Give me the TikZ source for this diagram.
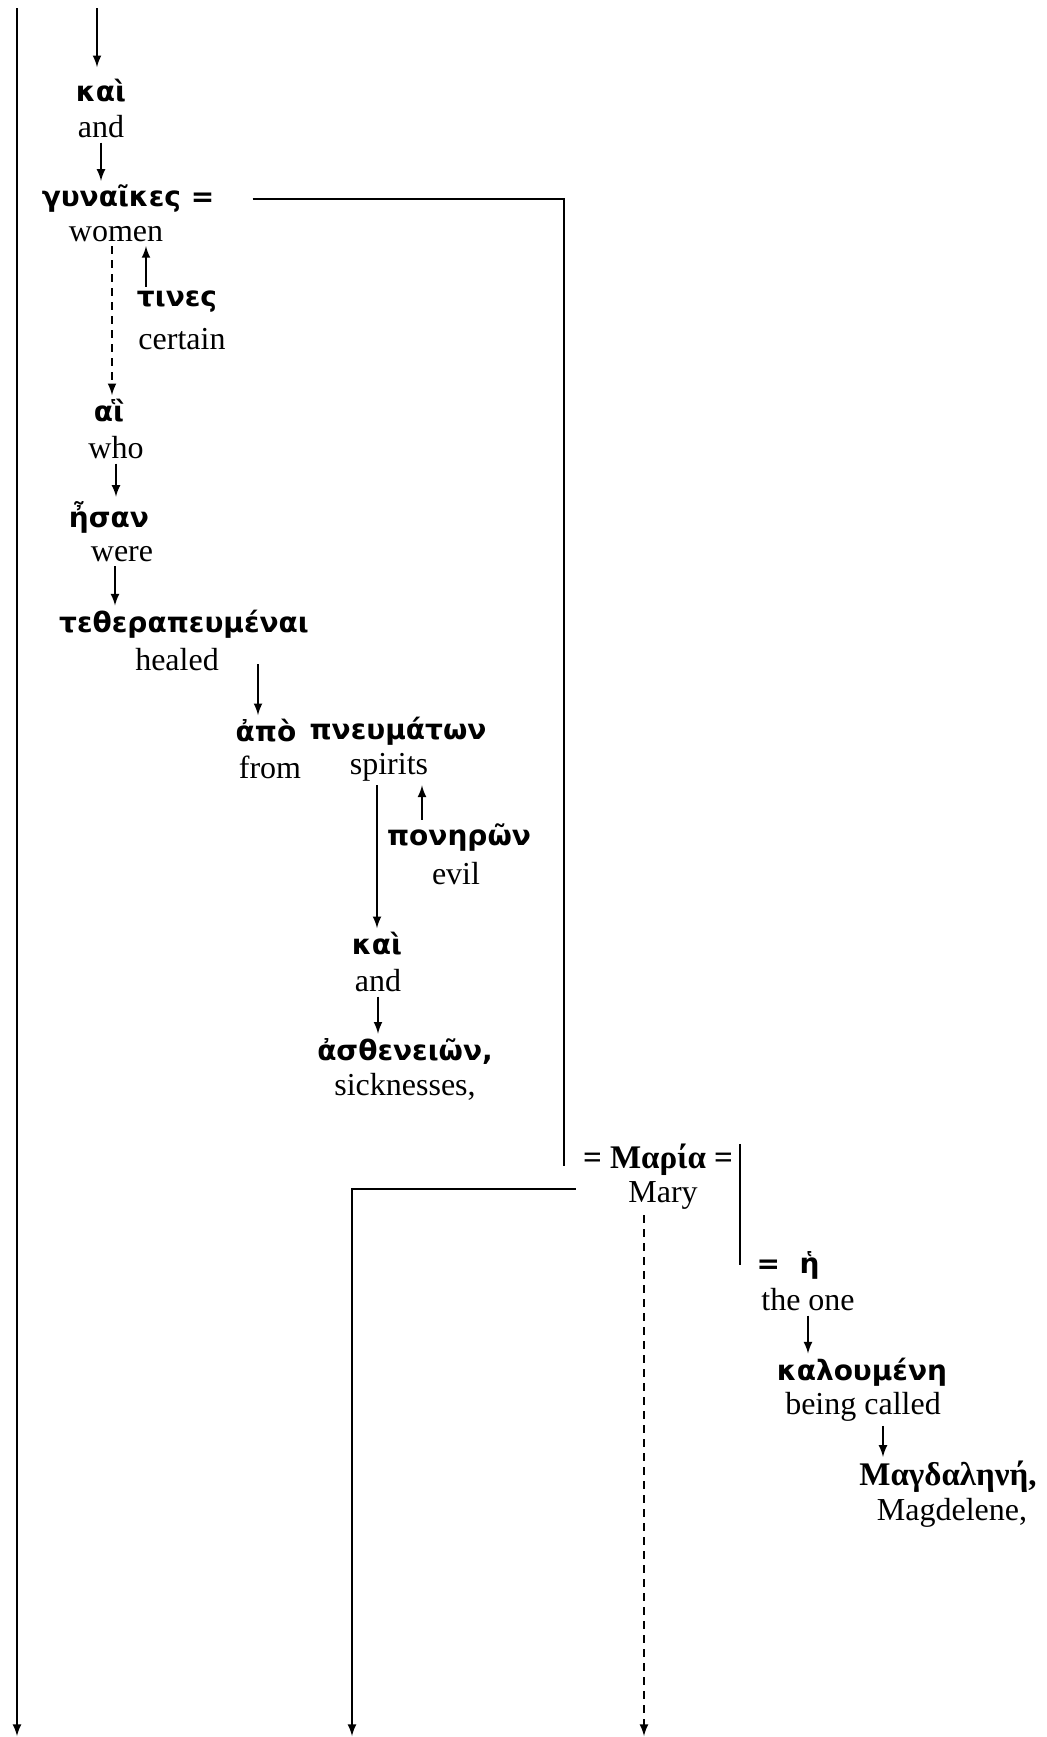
\documentclass[tikz,border=0pt]{standalone}
\usepackage{fontspec}
\setmainfont{Liberation Serif}
\newfontfamily\grkfont{DejaVu Sans}
\newfontfamily\grkserif{Liberation Serif}
\usetikzlibrary{arrows}

\begin{document}
\begin{tikzpicture}[x=0.5pt,y=-0.5pt]
            \tikzset{
                grk/.style={inner sep=0pt, font=\grkfont\bfseries\fontsize{14}{16}\selectfont},
                grks/.style={inner sep=0pt, font=\grkserif\bfseries\fontsize{16.5}{18}\selectfont},
                eng/.style={inner sep=0pt, font=\fontsize{16}{18}\selectfont},
                arr/.style={-latex, line width=1pt, shorten <=2pt, shorten >=2pt},
                longarr/.style={-latex, line width=1pt},
                dasharr/.style={dash pattern=on 4pt off 3pt},
                link/.style={line width=0.9pt}
            }
            \useasboundingbox (0,0) rectangle (1046,1737);
            % words, greek above english
            \node[grk] (kai1) at (101,91) {καὶ};
            \node[eng] (and1) at (101,127) {and};
            \node[grk] (gyn) at (128,199) {γυναῖκες =};
            \node[eng] (women) at (116,234) {women};
            \node[grk] (tines) at (177,302) {τινες};
            \node[eng] (certain) at (182,339) {certain};
            \node[grk] (ai) at (109,411) {αἳ};
            \node[eng] (who) at (116,448) {who};
            \node[grk] (esan) at (109,517) {ἦσαν};
            \node[eng] (were) at (122,554) {were};
            \node[grk] (teth) at (184,624) {τεθεραπευμέναι};
            \node[eng] (healed) at (177,660) {healed};
            \node[grk] (apo) at (266,731) {ἀπὸ};
            \node[grk] (pneum) at (398,731) {πνευμάτων};
            \node[eng] (from) at (270,767) {from};
            \node[eng] (spirits) at (389,767) {spirits};
            \node[grk] (poneron) at (459,838) {πονηρῶν};
            \node[eng] (evil) at (456,874) {evil};
            \node[grk] (kai2) at (377,944) {καὶ};
            \node[eng] (and2) at (378,981) {and};
            \node[grk] (asth) at (405,1051) {ἀσθενειῶν,};
            \node[eng] (sick) at (405,1087) {sicknesses,};
            \node[grks] (maria) at (658,1160) {= Μαρία =};
            \node[eng] (mary) at (663,1195) {Mary};
            \node[grk] (he) at (788,1265) {=\ \ ἡ};
            \node[eng] (theone) at (808,1300) {the one};
            \node[grk] (kalou) at (862,1372) {καλουμένη};
            \node[eng] (being) at (863,1407) {being called};
            \node[grks] (magd) at (948,1477) {Μαγδαληνή,};
            \node[eng] (magdel) at (952,1513) {Magdelene,};
            % loose ends
            \coordinate (c-top) at (17,8);
            \coordinate (c-bot) at (17,1736);
            \coordinate (c-in) at (97,8);
            \coordinate (c-b2) at (352,1736);
            \coordinate (c-b3) at (644,1736);
            \coordinate (w-a) at ([xshift=-2pt]women.south);
            \coordinate (t-a) at ([xshift=-15.5pt]tines.north);
            \coordinate (r-a) at ([xshift=-3.5pt]were.south);
            \coordinate (h-a) at ([xshift=-4pt]apo.north);
            \coordinate (p-a) at ([xshift=-18.5pt]poneron.north);
            \coordinate (b-a) at ([xshift=10pt]being.south);
            \coordinate (g-a) at ([xshift=19pt]gyn.east);
            \coordinate (m-a) at ([xshift=-9.5pt,yshift=-3pt]maria.west);
            \coordinate (m-b) at ([xshift=3.5pt]maria.north east);
            \coordinate (y-a) at ([xshift=-26pt,yshift=3pt]mary.west);
            % connectors
            \draw[longarr] (c-top) -- (c-bot);
            \draw[longarr, shorten >=6pt] (c-in) -- (c-in |- kai1.north);
            \draw[arr] (and1.south) -- (and1.south |- gyn.north);
            \draw[link] (g-a) -| (m-a);
            \draw[arr, dasharr] (w-a) -- (w-a |- ai.north);
            \draw[arr] (t-a) -- (t-a |- women.south);
            \draw[arr] (who.south) -- (who.south |- esan.north);
            \draw[arr] (r-a) -- (r-a |- teth.north);
            \draw[arr] (h-a |- healed) -- (h-a);
            \draw[arr] (kai2.north |- spirits.south) -- (kai2.north);
            \draw[arr] (p-a) -- (p-a |- spirits.south);
            \draw[arr] (and2.south) -- (and2.south |- asth.north);
            \draw[link] (m-b) -- (m-b |- he);
            \draw[longarr] (y-a) -| (c-b2);
            \draw[longarr, dasharr, shorten <=3pt] (c-b3 |- mary.south) -- (c-b3);
            \draw[arr] (theone.south) -- (theone.south |- kalou.north);
            \draw[arr] (b-a) -- (b-a |- magd.north);
        \end{tikzpicture}
\end{document}
